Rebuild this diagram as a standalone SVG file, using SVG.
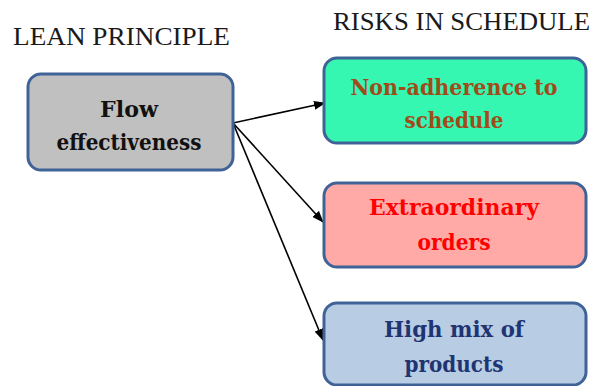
<svg xmlns="http://www.w3.org/2000/svg" width="597" height="386" viewBox="0 0 597 386">
  <style>
    .heading { font-family: "Liberation Serif", "Times New Roman", serif; font-size: 25px; fill: #1a1a1a; }
    .box { stroke: #3f6396; stroke-width: 3; }
    .label { font-family: "DejaVu Serif", "Liberation Serif", serif; font-size: 23px; font-weight: bold; text-anchor: middle; }
    .link { stroke: #000; stroke-width: 1.6; fill: none; marker-end: url(#arrow); }
  </style>
  <defs>
    <marker id="arrow" markerWidth="12" markerHeight="9" refX="11" refY="4.5" orient="auto" markerUnits="userSpaceOnUse">
      <path d="M0,0 L12,4.5 L0,9 Z" fill="#000"/>
    </marker>
  </defs>
  <rect width="597" height="386" fill="#fff"/>

  <text class="heading" x="13" y="45" textLength="217" lengthAdjust="spacingAndGlyphs">LEAN PRINCIPLE</text>
  <text class="heading" x="333" y="30" textLength="257" lengthAdjust="spacingAndGlyphs">RISKS IN SCHEDULE</text>

  <g id="connectors">
    <line class="link" x1="233" y1="123" x2="325" y2="103"/>
    <line class="link" x1="233" y1="123" x2="323" y2="222"/>
    <line class="link" x1="233" y1="123" x2="323" y2="340"/>
  </g>

  <g id="flow-effectiveness">
    <rect class="box" x="28" y="74" width="205" height="96" rx="13" fill="#c0c0c0"/>
    <text class="label" x="129" y="117" fill="#111" textLength="58" lengthAdjust="spacingAndGlyphs">Flow</text>
    <text class="label" x="129" y="150" fill="#111" textLength="145" lengthAdjust="spacingAndGlyphs">effectiveness</text>
  </g>

  <g id="non-adherence">
    <rect class="box" x="324" y="58" width="262" height="85" rx="13" fill="#35f7b1"/>
    <text class="label" x="454" y="95" fill="#a04b1a" textLength="207" lengthAdjust="spacingAndGlyphs">Non-adherence to</text>
    <text class="label" x="454" y="128" fill="#a04b1a" textLength="99" lengthAdjust="spacingAndGlyphs">schedule</text>
  </g>

  <g id="extraordinary-orders">
    <rect class="box" x="324" y="183" width="262" height="84" rx="13" fill="#ffaaa6"/>
    <text class="label" x="454" y="215" fill="#ff0000" textLength="170" lengthAdjust="spacingAndGlyphs">Extraordinary</text>
    <text class="label" x="454" y="250" fill="#ff0000" textLength="73" lengthAdjust="spacingAndGlyphs">orders</text>
  </g>

  <g id="high-mix">
    <rect class="box" x="324" y="303" width="262" height="82" rx="13" fill="#b8cce4"/>
    <text class="label" x="454" y="337" fill="#1f3573" textLength="140" lengthAdjust="spacingAndGlyphs">High mix of</text>
    <text class="label" x="454" y="372" fill="#1f3573" textLength="99" lengthAdjust="spacingAndGlyphs">products</text>
  </g>
</svg>
